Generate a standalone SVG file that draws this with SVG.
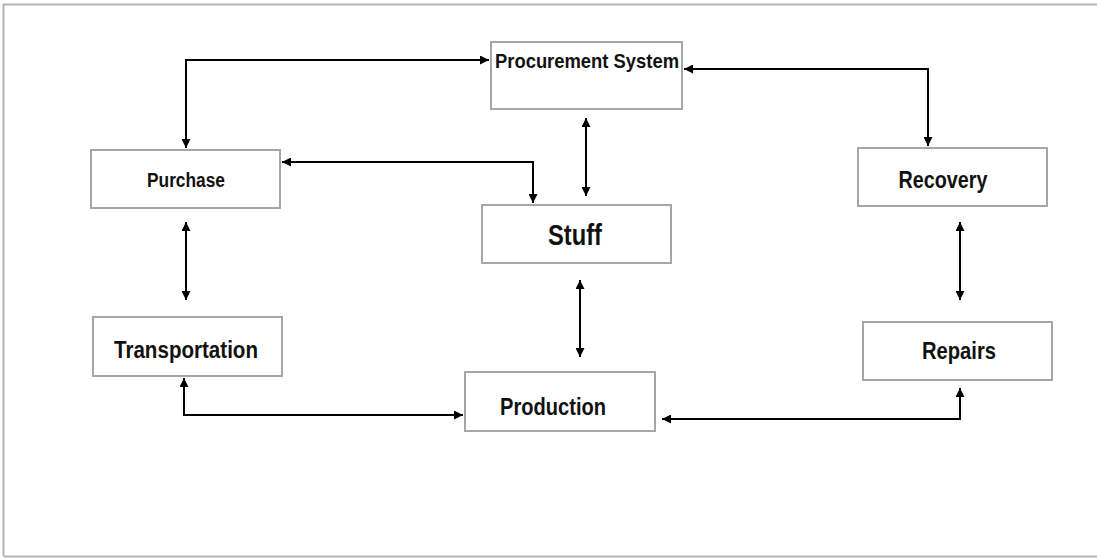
<svg xmlns="http://www.w3.org/2000/svg" width="1097" height="559" viewBox="0 0 1097 559">
<defs>
<marker id="ah" viewBox="0 0 10 10" refX="10" refY="5" markerWidth="10" markerHeight="9" markerUnits="userSpaceOnUse" orient="auto-start-reverse">
<path d="M0,0 L10,5 L0,10 z" fill="#000"/>
</marker>
</defs>
<style>
.box{fill:#fff;stroke:#a6a6a6;stroke-width:2}
.lbl{font-family:"Liberation Sans Narrow","Liberation Sans",Arial,sans-serif;font-weight:bold;fill:#111;text-anchor:middle}
.c{fill:none;stroke:#000;stroke-width:2;marker-start:url(#ah);marker-end:url(#ah)}
</style>
<rect x="0" y="0" width="1097" height="559" fill="#fff"/>
<path d="M3.5,556 V4.5 H1097 M3.5,556.5 H1097" fill="none" stroke="#b4b4b4" stroke-width="2"/>
<g id="procurement"><rect class="box" x="491" y="42" width="191" height="67"/><text class="lbl" x="587" y="68" font-size="21" textLength="184" lengthAdjust="spacingAndGlyphs">Procurement System</text></g>
<g id="purchase"><rect class="box" x="91" y="150" width="189" height="58"/><text class="lbl" x="186" y="187" font-size="20" textLength="78" lengthAdjust="spacingAndGlyphs">Purchase</text></g>
<g id="recovery"><rect class="box" x="858" y="148" width="189" height="58"/><text class="lbl" x="943" y="188" font-size="24" textLength="89" lengthAdjust="spacingAndGlyphs">Recovery</text></g>
<g id="stuff"><rect class="box" x="482" y="205" width="189" height="58"/><text class="lbl" x="575" y="245" font-size="30" textLength="54" lengthAdjust="spacingAndGlyphs">Stuff</text></g>
<g id="transportation"><rect class="box" x="93" y="317" width="189" height="59"/><text class="lbl" x="186" y="358" font-size="24" textLength="144" lengthAdjust="spacingAndGlyphs">Transportation</text></g>
<g id="repairs"><rect class="box" x="863" y="322" width="189" height="58"/><text class="lbl" x="959" y="359" font-size="24" textLength="74" lengthAdjust="spacingAndGlyphs">Repairs</text></g>
<g id="production"><rect class="box" x="465" y="372" width="190" height="59"/><text class="lbl" x="553" y="415" font-size="24" textLength="106" lengthAdjust="spacingAndGlyphs">Production</text></g>
<g id="connectors">
<path class="c" d="M186,148 V60 H489"/>
<path class="c" d="M684,69 H928 V146"/>
<path class="c" d="M282,162 H533 V203"/>
<path class="c" d="M586,118 V196"/>
<path class="c" d="M186,222 V300"/>
<path class="c" d="M580,280 V357"/>
<path class="c" d="M960,222 V300"/>
<path class="c" d="M184,378 V415 H463"/>
<path class="c" d="M662,419 H960 V388"/>
</g>
</svg>
